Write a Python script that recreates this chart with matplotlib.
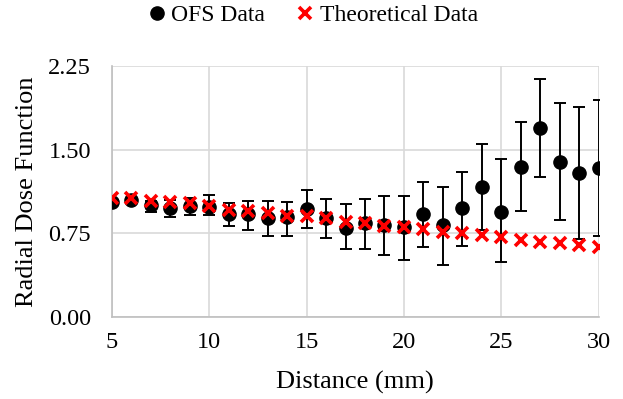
import matplotlib
matplotlib.use("Agg")
import matplotlib.pyplot as plt
from matplotlib.lines import Line2D

distance = [5, 6, 7, 8, 9, 10, 11, 12, 13, 14, 15, 16, 17, 18, 19, 20,
            21, 22, 23, 24, 25, 26, 27, 28, 29, 30]
ofs = [1.03, 1.05, 1.00, 0.975, 0.995, 0.99, 0.92, 0.92, 0.886, 0.895, 0.966,
       0.886, 0.80, 0.846, 0.826, 0.81, 0.924, 0.826, 0.975, 1.162, 0.945,
       1.347, 1.689, 1.391, 1.293, 1.338]
ofs_err_hi = [0.02, 0.02, 0.04, 0.075, 0.07, 0.10, 0.105, 0.12, 0.155, 0.14, 0.17,
              0.17, 0.21, 0.21, 0.26, 0.275, 0.29, 0.34, 0.32, 0.39, 0.47,
              0.40, 0.44, 0.52, 0.59, 0.60]
ofs_err_lo = [0.02, 0.02, 0.06, 0.075, 0.08, 0.075, 0.105, 0.135, 0.158, 0.167, 0.17,
              0.173, 0.19, 0.236, 0.268, 0.297, 0.297, 0.357, 0.334, 0.381, 0.447,
              0.393, 0.432, 0.52, 0.595, 0.61]
theoretical = [1.07, 1.064, 1.043, 1.034, 1.02, 0.996, 0.96, 0.954, 0.93, 0.906,
               0.909, 0.886, 0.855, 0.846, 0.82, 0.81, 0.787, 0.766, 0.751, 0.737,
               0.716, 0.692, 0.671, 0.662, 0.647, 0.632]
x_ticks = [5, 10, 15, 20, 25, 30]
y_ticks = [0.0, 0.75, 1.5, 2.25]
y_tick_labels = ["0.00", "0.75", "1.50", "2.25"]

plt.rcParams['font.family'] = ['Liberation Serif', 'DejaVu Serif']

fig = plt.figure(figsize=(6.23, 3.99), dpi=100)
ax = fig.add_axes([0.1798, 0.2043, 0.7809, 0.6315])

ax.errorbar(distance, ofs, yerr=[ofs_err_lo, ofs_err_hi], fmt='none',
            ecolor='black', elinewidth=1.4, capsize=4.5, capthick=1.4, zorder=3)
ax.plot(distance, ofs, 'o', color='black', markersize=9.5, linestyle='none', zorder=4)
ax.plot(distance, theoretical, 'x', color='#ff0000', markersize=8.5,
        markeredgewidth=2.6, linestyle='none', zorder=5)

ax.set_xlim(5, 30)
ax.set_ylim(0, 2.25)
ax.set_xticks(x_ticks)
ax.set_yticks(y_ticks)
ax.set_yticklabels(y_tick_labels)
ax.grid(True, color='#d9d9d9', linewidth=1.2, zorder=0)
ax.set_axisbelow(True)
for s in ['top', 'right']:
    ax.spines[s].set_visible(False)
for s in ['left', 'bottom']:
    ax.spines[s].set_color('#bfbfbf')
    ax.spines[s].set_linewidth(1.2)
ax.tick_params(axis='both', length=0, labelsize=17.5)
ax.tick_params(axis='x', pad=10.5)
ax.tick_params(axis='y', pad=15)

ax.set_xlabel("Distance (mm)", fontsize=19, labelpad=12.5)
ax.set_ylabel("Radial Dose Function", fontsize=19, labelpad=7.5)

handles = [Line2D([], [], marker='o', color='black', linestyle='none', markersize=9.5),
           Line2D([], [], marker='x', color='#ff0000', linestyle='none', markersize=8.5,
                  markeredgewidth=2.6)]
fig.legend(handles, ["OFS Data", "Theoretical Data"], loc='center',
           bbox_to_anchor=(0.5, 0.962), ncol=2, frameon=False, fontsize=17,
           handletextpad=0.1, columnspacing=1.2, handlelength=1.0)

fig.savefig("out.png", dpi=100)
